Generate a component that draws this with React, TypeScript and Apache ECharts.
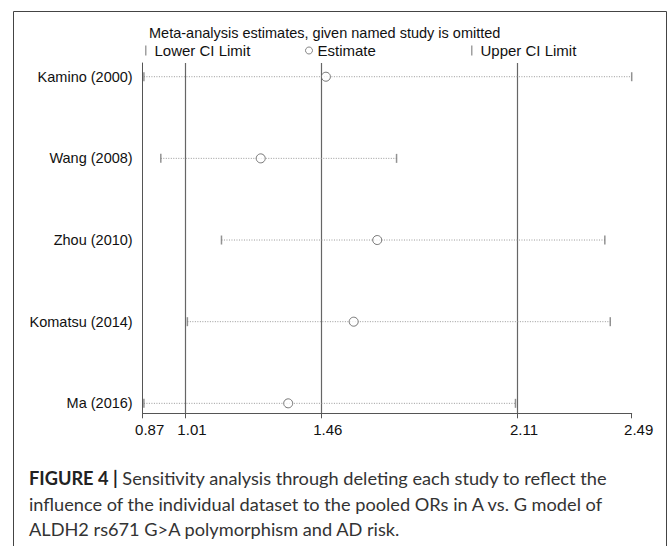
import React, { useEffect, useRef } from "react";
import * as echarts from "echarts";

const studies = ["Kamino (2000)", "Wang (2008)", "Zhou (2010)", "Komatsu (2014)", "Ma (2016)"];
const lowerCI = [0.874, 0.93, 1.131, 1.018, 0.874];
const estimate = [1.477, 1.261, 1.647, 1.569, 1.352];
const upperCI = [2.49, 1.711, 2.401, 2.419, 2.105];
const tickValues = [0.87, 1.01, 1.46, 2.11, 2.49];
const refLines = [1.01, 1.46, 2.11];

const FONT = "'Liberation Sans', Arial, sans-serif";
const CAP_FONT = "Lato, Roboto, 'Liberation Sans', sans-serif";
const CAP_SIZE = 18.2;

export default function App() {
  const ref = useRef<HTMLDivElement>(null);
  useEffect(() => {
    const chart = echarts.init(ref.current!, null, { renderer: "svg" });
    const rows = studies.map((_, i) => [lowerCI[i], i + 1, upperCI[i]]);
    const option: any = {
      animation: false,
      backgroundColor: "#fff",
      title: {
        text: "Meta-analysis estimates, given named study is omitted",
        left: 149,
        top: 25,
        textStyle: { fontFamily: FONT, fontSize: 14.5, fontWeight: "normal", color: "#111" },
        padding: 0,
      },
      legend: [
        {
          data: ["Lower CI Limit"], left: 145, top: 43, padding: 0, itemWidth: 1.5, itemHeight: 10,
          icon: "rect", textStyle: { fontFamily: FONT, fontSize: 15, color: "#111", padding: [0, 0, 0, 3] },
          itemStyle: { color: "#888" }, selectedMode: false,
        },
        {
          data: ["Estimate"], left: 305, top: 43, padding: 0, itemWidth: 7, itemHeight: 7,
          icon: "circle", textStyle: { fontFamily: FONT, fontSize: 15, color: "#111" },
          itemStyle: { color: "#fff", borderColor: "#666", borderWidth: 1 }, selectedMode: false,
        },
        {
          data: ["Upper CI Limit"], left: 471, top: 43, padding: 0, itemWidth: 1.5, itemHeight: 10,
          icon: "rect", textStyle: { fontFamily: FONT, fontSize: 15, color: "#111", padding: [0, 0, 0, 3] },
          itemStyle: { color: "#888" }, selectedMode: false,
        },
      ],
      grid: { left: 142.7, right: 38.3, top: 63, bottom: 132.7 },
      xAxis: {
        type: "value",
        min: 0.87,
        max: 2.49,
        splitLine: { show: false },
        axisLine: { onZero: false, lineStyle: { color: "#555", width: 1 } },
        axisTick: { customValues: tickValues, length: 5, lineStyle: { color: "#555" } },
        axisLabel: {
          customValues: tickValues,
          formatter: (v: number) => v.toFixed(2),
          fontFamily: FONT,
          fontSize: 15,
          color: "#111",
          margin: 9,
          padding: [0, 0, 0, 14],
          showMinLabel: true,
          showMaxLabel: true,
        },
      },
      yAxis: {
        type: "value",
        inverse: true,
        min: 0.832,
        max: 5.122,
        splitLine: { show: false },
        axisLine: { show: true, onZero: false, lineStyle: { color: "#555", width: 1 } },
        axisTick: { show: false },
        axisLabel: {
          customValues: [1, 2, 3, 4, 5],
          formatter: (v: number) => studies[Math.round(v) - 1] || "",
          fontFamily: FONT,
          fontSize: 14.5,
          color: "#111",
          margin: 10,
        },
      },
      series: [
        {
          type: "custom",
          name: "ci",
          data: rows,
          encode: { x: [0, 2], y: 1 },
          z: 3,
          renderItem: (params: any, api: any) => {
            const y = api.value(1);
            const p1 = api.coord([api.value(0), y]);
            const p2 = api.coord([api.value(2), y]);
            return {
              type: "line",
              shape: { x1: p1[0], y1: p1[1], x2: p2[0], y2: p2[1] },
              style: { stroke: "#999", lineWidth: 1, lineDash: [1, 1.5] },
            };
          },
          markLine: {
            silent: true,
            symbol: ["none", "none"],
            label: { show: false },
            lineStyle: { type: "solid", color: "#666", width: 1.2 },
            data: refLines.map((v) => ({ xAxis: v })),
            z: 1,
          },
        },
        {
          type: "scatter",
          name: "Lower CI Limit",
          data: studies.map((_, i) => [lowerCI[i], i + 1]),
          symbol: "rect",
          symbolSize: [1.5, 9],
          itemStyle: { color: "#777" },
          z: 4,
        },
        {
          type: "scatter",
          name: "Upper CI Limit",
          data: studies.map((_, i) => [upperCI[i], i + 1]),
          symbol: "rect",
          symbolSize: [1.5, 9],
          itemStyle: { color: "#777" },
          z: 4,
        },
        {
          type: "scatter",
          name: "Estimate",
          data: studies.map((_, i) => [estimate[i], i + 1]),
          symbol: "circle",
          symbolSize: 9,
          itemStyle: { color: "#fff", borderColor: "#555", borderWidth: 1 },
          z: 5,
        },
      ],
      graphic: [
        {
          type: "rect",
          shape: { x: 13.5, y: 11.5, width: 653, height: 600 },
          style: { fill: "none", stroke: "#444", lineWidth: 1 },
          silent: true,
          z: -1,
        },
        {
          type: "text",
          x: 29,
          y: 478,
          style: {
            text: "{b|FIGURE 4 |} Sensitivity analysis through deleting each study to reflect the",
            rich: {
              b: { fontFamily: CAP_FONT, fontSize: CAP_SIZE, fontWeight: "bold", fill: "#222" },
            },
            fontFamily: CAP_FONT,
            fontSize: CAP_SIZE,
            fill: "#333",
            verticalAlign: "middle",
          },
        },
        {
          type: "text",
          x: 29,
          y: 504,
          style: {
            text: "influence of the individual dataset to the pooled ORs in A vs. G model of",
            fontFamily: CAP_FONT,
            fontSize: CAP_SIZE,
            fill: "#333",
            verticalAlign: "middle",
          },
        },
        {
          type: "text",
          x: 29,
          y: 529,
          style: {
            text: "ALDH2 rs671 G>A polymorphism and AD risk.",
            fontFamily: CAP_FONT,
            fontSize: CAP_SIZE,
            fill: "#333",
            verticalAlign: "middle",
          },
        },
      ],
    };
    chart.setOption(option);
    return () => chart.dispose();
  }, []);
  return (
    <div
      ref={ref}
      style={{ position: "absolute", left: 0, top: 0, width: 670, height: 546 }}
    />
  );
}
